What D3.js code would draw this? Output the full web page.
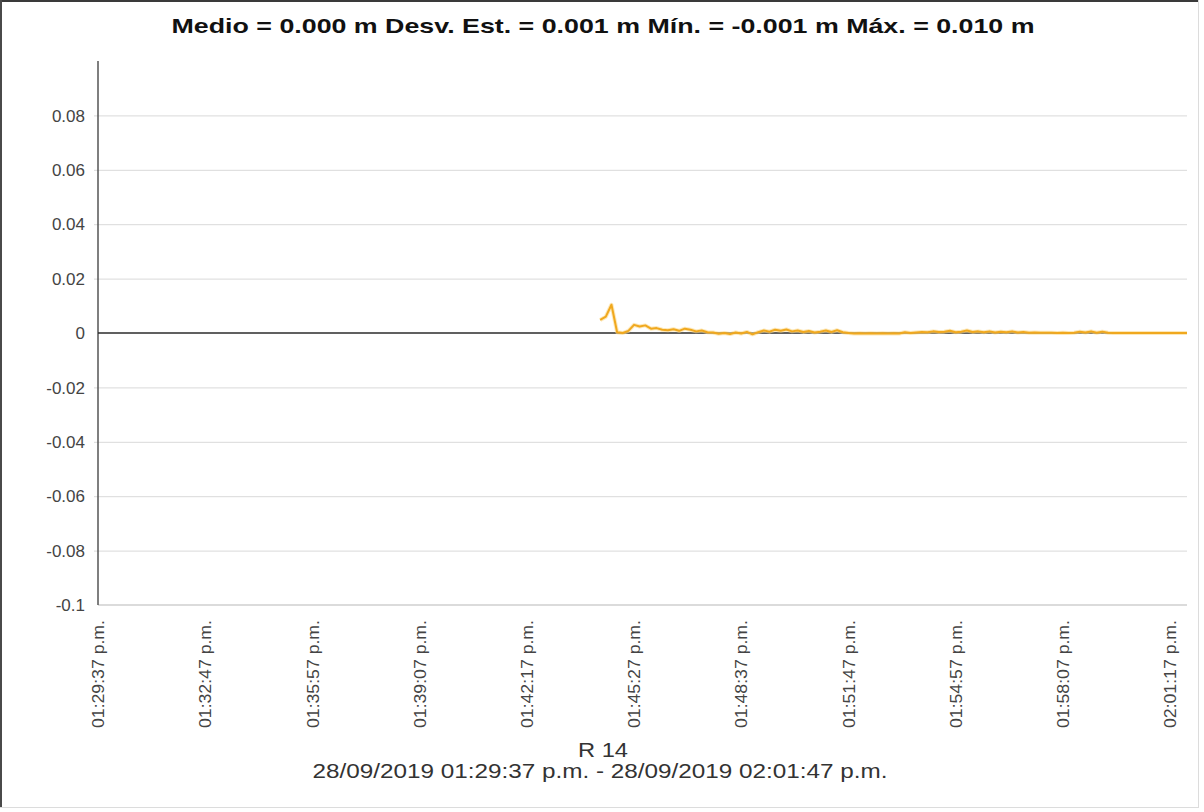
<!DOCTYPE html>
<html>
<head>
<meta charset="utf-8">
<script src="https://cdn.jsdelivr.net/npm/d3@7"></script>
<style>
  html, body { margin: 0; padding: 0; background: #fff; }
  svg { display: block; }
  text { font-family: "Liberation Sans", Arial, sans-serif; }
</style>
</head>
<body>
<svg id="chart" width="1204" height="812"></svg>
<script>
// ---------- data ----------
const titleText = "Medio = 0.000 m Desv. Est. = 0.001 m Mín. = -0.001 m Máx. = 0.010 m";
const axisTitle = "R 14";
const rangeText = "28/09/2019 01:29:37 p.m. - 28/09/2019 02:01:47 p.m.";
const xStart = "2019-09-28T13:29:37";
const xEnd = "2019-09-28T14:01:47";
const yTicks = [0.08, 0.06, 0.04, 0.02, 0, -0.02, -0.04, -0.06, -0.08, -0.1];
const yTickLabels = ["0.08", "0.06", "0.04", "0.02", "0", "-0.02", "-0.04", "-0.06", "-0.08", "-0.1"];
const xTickTimes = ["13:29:37", "13:32:47", "13:35:57", "13:39:07", "13:42:17", "13:45:27",
                    "13:48:37", "13:51:47", "13:54:57", "13:58:07", "14:01:17"];
const xTickLabels = ["01:29:37 p.m.", "01:32:47 p.m.", "01:35:57 p.m.", "01:39:07 p.m.", "01:42:17 p.m.",
                     "01:45:27 p.m.", "01:48:37 p.m.", "01:51:47 p.m.", "01:54:57 p.m.", "01:58:07 p.m.",
                     "02:01:17 p.m."];
// series: first sample time and sampling step (seconds), values in metres
const seriesStart = "2019-09-28T13:44:27";
const seriesStepSec = 10;
const seriesValues = [
  0.0048, 0.0060, 0.0104, 0.0003, 0.0000, 0.0008, 0.0030, 0.0024, 0.0028, 0.0016,
  0.0018, 0.0012, 0.0010, 0.0014, 0.0008, 0.0016, 0.0012, 0.0006, 0.0009, 0.0003,
  0.0002, -0.0003, 0.0000, -0.0004, 0.0002, -0.0002, 0.0004, -0.0005, 0.0003, 0.0009,
  0.0005, 0.0012, 0.0008, 0.0013, 0.0006, 0.0009, 0.0004, 0.0007, 0.0002, 0.0005,
  0.0009, 0.0004, 0.0010, 0.0003, 0.0000, -0.0002, -0.0001, -0.0002, -0.0001, -0.0002,
  -0.0001, -0.0002, -0.0001, -0.0002, 0.0003, 0.0000, 0.0002, 0.0004, 0.0003, 0.0006,
  0.0004, 0.0005, 0.0008, 0.0003, 0.0005, 0.0009, 0.0004, 0.0006, 0.0003, 0.0006,
  0.0002, 0.0005, 0.0003, 0.0006, 0.0002, 0.0004, 0.0001, 0.0002, 0.0001, 0.0001,
  0.0001, 0.0000, 0.0001, 0.0000, 0.0001, 0.0005, 0.0002, 0.0006, 0.0001, 0.0005,
  0.0001, 0.0000, 0.0000, 0.0000, 0.0000, 0.0000, 0.0000, 0.0000, 0.0000, 0.0000,
  0.0000, 0.0000, 0.0000, 0.0000, 0.0000
];

// ---------- layout ----------
const W = 1204, H = 812;
const plot = { left: 98, right: 1187, top: 61, bottom: 605 };
const svg = d3.select("#chart");

const parseISO = d3.timeParse("%Y-%m-%dT%H:%M:%S");
const t0 = parseISO(xStart), t1 = parseISO(xEnd);
const x = d3.scaleTime().domain([t0, t1]).range([plot.left, plot.right]);
const y = d3.scaleLinear().domain([-0.1, 0.1]).range([plot.bottom, plot.top]);

const sStart = parseISO(seriesStart);
const series = seriesValues.map((v, i) => ({ t: new Date(sStart.getTime() + i * seriesStepSec * 1000), v }));

// window-like frame
svg.append("rect").attr("x", 0).attr("y", 0).attr("width", W).attr("height", H).attr("fill", "#fff");
svg.append("line").attr("x1", 0).attr("x2", 1199).attr("y1", 1).attr("y2", 1).attr("stroke", "#3a3a3a").attr("stroke-width", 2);
svg.append("line").attr("x1", 1).attr("x2", 1).attr("y1", 0).attr("y2", 808).attr("stroke", "#4a4a4a").attr("stroke-width", 2);
svg.append("line").attr("x1", 1198.5).attr("x2", 1198.5).attr("y1", 0).attr("y2", 808).attr("stroke", "#dcdcdc").attr("stroke-width", 1);
svg.append("line").attr("x1", 0).attr("x2", 1199).attr("y1", 807.5).attr("y2", 807.5).attr("stroke", "#dcdcdc").attr("stroke-width", 1);

// title
svg.append("text")
  .attr("x", 603).attr("y", 33)
  .attr("text-anchor", "middle")
  .attr("font-size", 21).attr("font-weight", "bold").attr("fill", "#111")
  .attr("textLength", 863).attr("lengthAdjust", "spacingAndGlyphs")
  .text(titleText);

// horizontal gridlines via y axis
const yGrid = svg.append("g").attr("transform", `translate(${plot.left},0)`)
  .call(d3.axisLeft(y).tickValues(yTicks.filter(v => v !== 0 && v !== -0.1))
    .tickSize(-(plot.right - plot.left)).tickFormat(""));
yGrid.select(".domain").remove();
yGrid.selectAll(".tick line").attr("stroke", "#d9d9d9").attr("stroke-width", 1).attr("x1", -4);

// bottom line (x axis at -0.1)
const xAxis = svg.append("g").attr("transform", `translate(0,${y(-0.1)})`)
  .call(d3.axisBottom(x).tickValues(xTickTimes.map(s => parseISO("2019-09-28T" + s))).tickSize(0).tickFormat(""));
xAxis.select(".domain").attr("stroke", "#cfcfcf").attr("stroke-width", 1.5)
  .attr("d", `M${plot.left},0H${plot.right}`);

// y axis labels
const yLab = svg.append("g").attr("transform", `translate(${plot.left},0)`)
  .call(d3.axisLeft(y).tickValues(yTicks).tickSize(0).tickPadding(13)
    .tickFormat((d, i) => yTickLabels[i]));
yLab.select(".domain").remove();
yLab.selectAll(".tick text").attr("font-size", 17).attr("fill", "#444")
  .style("font-family", '"Liberation Sans", Arial, sans-serif').attr("dy", "0.34em");

// y axis line
svg.append("line").attr("x1", plot.left).attr("x2", plot.left)
  .attr("y1", plot.top).attr("y2", plot.bottom)
  .attr("stroke", "#555").attr("stroke-width", 1.5);

// zero line
svg.append("line").attr("x1", plot.left).attr("x2", plot.right)
  .attr("y1", y(0)).attr("y2", y(0))
  .attr("stroke", "#2b2b2b").attr("stroke-width", 1.5);

// x tick labels (rotated)
const xTimes = xTickTimes.map(s => parseISO("2019-09-28T" + s));
svg.append("g").selectAll("text").data(xTimes).join("text")
  .attr("transform", d => `translate(${x(d)},620) rotate(-90)`)
  .attr("text-anchor", "end")
  .attr("dy", "0.36em")
  .attr("font-size", 17).attr("fill", "#444")
  .attr("textLength", 108).attr("lengthAdjust", "spacingAndGlyphs")
  .text((d, i) => xTickLabels[i]);

// axis title lines
svg.append("text").attr("x", 603).attr("y", 757).attr("text-anchor", "middle")
  .attr("font-size", 20).attr("fill", "#333")
  .attr("textLength", 50).attr("lengthAdjust", "spacingAndGlyphs")
  .text(axisTitle);
svg.append("text").attr("x", 600).attr("y", 778).attr("text-anchor", "middle")
  .attr("font-size", 20).attr("fill", "#333")
  .attr("textLength", 575).attr("lengthAdjust", "spacingAndGlyphs")
  .text(rangeText);

// series line
const line = d3.line().x(d => x(d.t)).y(d => y(d.v));
svg.append("path").datum(series)
  .attr("d", line).attr("fill", "none")
  .attr("stroke", "#fbd98a").attr("stroke-width", 4).attr("stroke-linejoin", "round").attr("opacity", 0.6);
svg.append("path").datum(series)
  .attr("d", line).attr("fill", "none")
  .attr("stroke", "#f0a81e").attr("stroke-width", 2).attr("stroke-linejoin", "round");
</script>
</body>
</html>
